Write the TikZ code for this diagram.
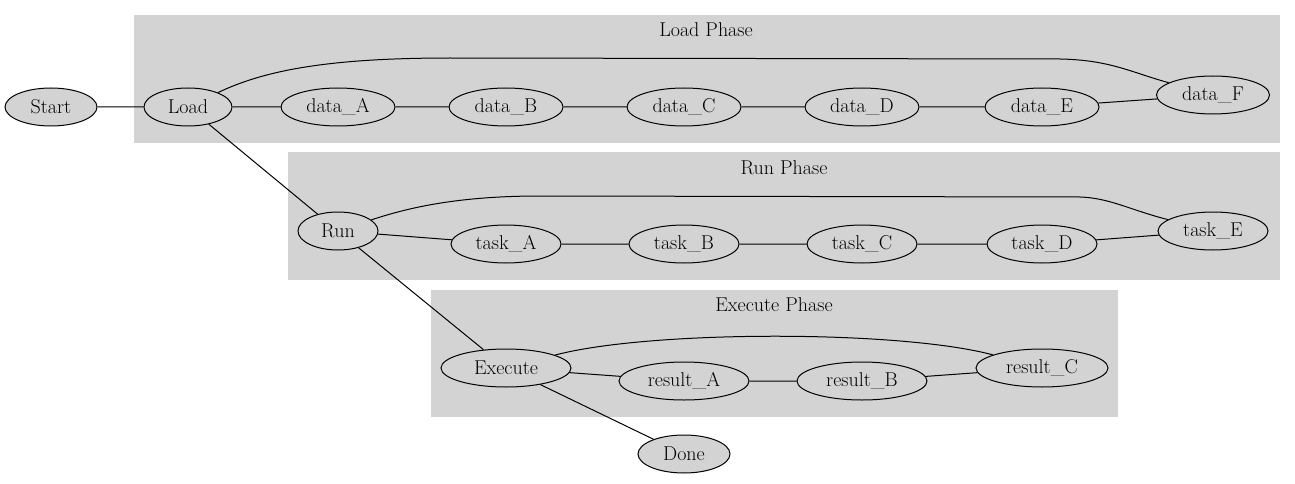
\documentclass[tikz,border=0pt]{standalone}
\usepackage{tikz}
\usetikzlibrary{shapes.geometric}
\definecolor{phasegray}{HTML}{D3D3D3}
\tikzstyle{phase} = [fill=phasegray, draw=none]
\tikzstyle{phasetitle} = [font=\fontsize{20}{23}\selectfont]
\tikzstyle{job} = [ellipse, draw=black, fill=phasegray, line width=1pt,
    inner sep=0pt, minimum height=38pt, font=\fontsize{20}{23}\selectfont]
\tikzstyle{link} = [draw=black, line width=1pt]

\begin{document}
\begin{tikzpicture}[x=1pt, y=-1pt]
\useasboundingbox (0,0) rectangle (1295,484);
% phases
\fill[phase] (134,15) rectangle (1280,143);
\fill[phase] (288,152) rectangle (1280,280);
\fill[phase] (431,290) rectangle (1118,417);
\node[phasetitle] (loadtitle) at (706,30) {Load Phase};
\node[phasetitle] (runtitle) at (784,168) {Run Phase};
\node[phasetitle] (exectitle) at (774,305) {Execute Phase};
% load phase
\node[job, minimum width=92pt] (start) at (51,107) {Start};
\node[job, minimum width=88pt] (load) at (188,107) {Load};
\node[job, minimum width=114pt] (dataA) at (338,107) {data\_A};
\node[job, minimum width=114pt] (dataB) at (506,107) {data\_B};
\node[job, minimum width=114pt] (dataC) at (684,107) {data\_C};
\node[job, minimum width=114pt] (dataD) at (862,107) {data\_D};
\node[job, minimum width=114pt] (dataE) at (1042,107) {data\_E};
\node[job, minimum width=113pt] (dataF) at (1213,95) {data\_F};
% run phase
\node[job, minimum width=80pt] (run) at (338,231) {Run};
\node[job, minimum width=110pt] (taskA) at (506,244) {task\_A};
\node[job, minimum width=110pt] (taskB) at (684,244) {task\_B};
\node[job, minimum width=110pt] (taskC) at (862,244) {task\_C};
\node[job, minimum width=110pt] (taskD) at (1042,244) {task\_D};
\node[job, minimum width=110pt] (taskE) at (1213,231) {task\_E};
% execute phase
\node[job, minimum width=130pt] (execute) at (506,368) {Execute};
\node[job, minimum width=130pt] (resultA) at (684,381) {result\_A};
\node[job, minimum width=130pt] (resultB) at (862,381) {result\_B};
\node[job, minimum width=132pt] (resultC) at (1042,368) {result\_C};
\node[job, minimum width=92pt] (done) at (684,454) {Done};
% links
\draw[link] (start) -- (load) -- (dataA) -- (dataB) -- (dataC) -- (dataD) -- (dataE) -- (dataF);
\draw[link] (load) .. controls (265,70) and (330,58) .. (450,58) -- (1060,59)
    .. controls (1110,60) and (1130,72) .. (dataF);
\draw[link] (load) -- (run);
\draw[link] (run) .. controls (410,207) and (460,196) .. (540,196) -- (1080,197)
    .. controls (1110,198) and (1130,210) .. (taskE);
\draw[link] (run) -- (taskA) -- (taskB) -- (taskC) -- (taskD) -- (taskE);
\draw[link] (run) -- (execute);
\draw[link] (execute) -- (resultA) -- (resultB) -- (resultC);
\draw[link] (execute) .. controls (650,330) and (900,330) .. (resultC);
\draw[link] (execute) -- (done);
\end{tikzpicture}
\end{document}
